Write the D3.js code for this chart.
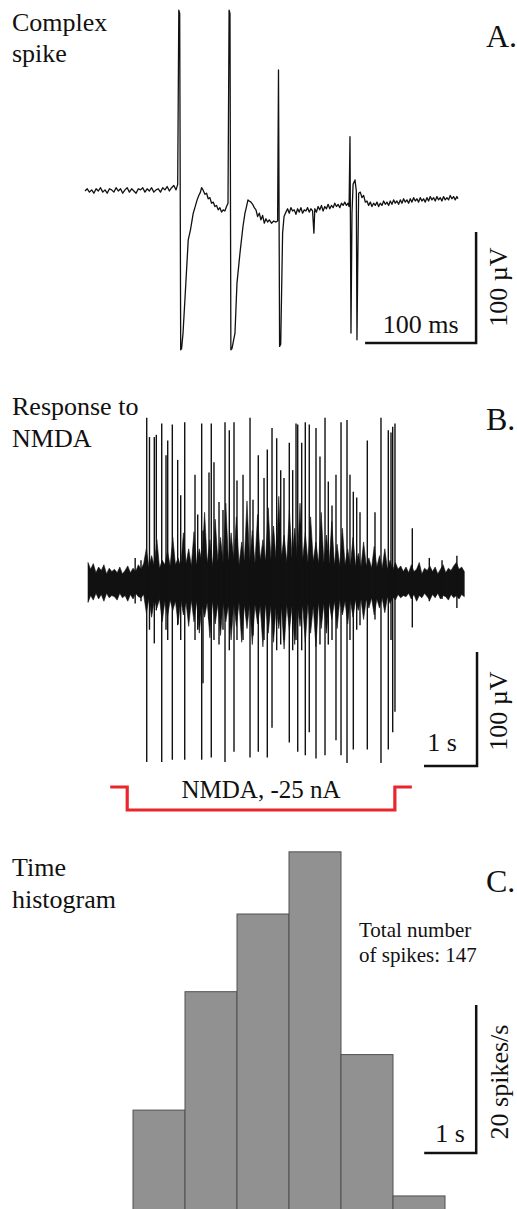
<!DOCTYPE html>
<html>
<head>
<meta charset="utf-8">
<title>Complex spike / NMDA response / time histogram</title>
<script src="https://cdn.jsdelivr.net/npm/d3@7"></script>
<style>
html,body{margin:0;padding:0;background:#fff;}
</style>
</head>
<body>
<script>
// ---------- A. complex spike trace: [time ms, potential µV] ----------
var traceA=[
[0,0],[2,2],[4,-1],[6,1],[8,-2],[10,2],[12,0],[14,3],[16,-1],[18,1],[20,-2],[22,2],[24,1],[26,-1],[28,3],[30,0],[32,2],[34,-2],[36,1],[38,3],[40,-1],[42,2],[44,0],[46,-2],[48,2],[50,1],[52,3],[54,-1],[56,2],[58,0],[60,3],[62,-1],[64,1],[66,2],[68,-1],[70,3],[72,1],[74,4],[76,0],[78,3],[80,5],[82,1],[83.5,6],
[84.5,163],[85.3,160],[86.2,-143],[87,-142],[88.3,-128],[90,-98],[93,-44],[95,-35],[97.5,-20],[99,-15],[101,-8],[102.5,-4],[104,-1],[105,3],[106.3,1],[108,-3],[109.5,-2],[111,-7],[112.5,-6],[114,-11],[115.5,-10],[117,-14],[118.5,-13],[120,-17],[121.5,-15],[123,-19],[124.5,-17],[126,-18],[127.5,-14],[128.8,-11],
[129.8,163],[130.6,160],[131.4,-143],[132.4,-142],[135.1,-128],[136.9,-83],[139.6,-56],[142.3,-32],[144.1,-20],[145.5,-14],[146.8,-8],[148,-9],[149.5,-10],[151,-12],[152.5,-15],[154,-17],[155.5,-23],[157,-20],[158.5,-26],[160,-22],[161.5,-29],[163,-25],[164.5,-28],[166,-26],[168,-29],[170,-27],[172,-28],[173.5,-27],
[174.3,109],[175.3,-140],[176.3,-138],[178,-38],[179.3,-23],[181,-19],[182.5,-16],[184,-20],[185.5,-15],[187,-18],[188.5,-17],[190,-21],[191.5,-16],[193,-19],[194.5,-15],[196,-20],[197.5,-17],[199,-18],[200.5,-15],[202,-19],[203.5,-16],[205,-18],[206.2,-38],[207,-16],[208.5,-19],[210,-14],[211.5,-17],[213,-13],[214.5,-18],[216,-14],[217.5,-16],[219,-12],[220.5,-16],[222,-13],[223.5,-15],[225,-11],[226.5,-14],[228,-12],[229.5,-15],[231,-11],[232.5,-13],[234,-10],[235.5,-13],[237,-11],[237.9,-14],
[238.7,49],[239.6,-128],[240.5,-20],[241.5,6],[243.2,10],[244.4,0],[245,-134],[245.6,-74],[246.5,-2],[248,-1],[249.5,-6],[251,-4],[252.5,-10],[254,-9],
[255.5,-13],[257,-10],[258.5,-14],[260,-11],[261.5,-13],[263,-10],[264.5,-14],[266,-11],[267.5,-13],[269,-9],[270.5,-12],[272,-10],[273.5,-13],[275,-9],[276.5,-12],[278,-8],[279.5,-11],[281,-9],[282.5,-12],[284,-8],[285.5,-11],[287,-7],[288.5,-10],[290,-8],[291.5,-11],[293,-7],[294.5,-10],[296,-6],[297.5,-9],[299,-7],[300.5,-10],[302,-6],[303.5,-9],[305,-7],[306.5,-10],[308,-6],[309.5,-9],[311,-5],[312.5,-8],[314,-6],[315.5,-9],[317,-5],[318.5,-8],[320,-6],[321.5,-9],[323,-5],[324.5,-8],[326,-6],[327.5,-8],[329,-4],[330.5,-7],[332,-5],[333.5,-8],[335,-5],[336,-7]
];

// ---------- B. response to NMDA ----------
// spikes: [time s, peak µV, trough µV]
var spikesB=[
[1.108,145,-157],[1.160,128,-41],[1.251,128,-53],[1.289,130,-24],[1.391,140,-157],[1.472,112,-41],[1.504,125,-50],[1.591,139,-155],[1.692,108,-37],[1.749,77,-50],
[1.825,141,-155],[2.019,95,-50],[2.070,60,-41],[2.145,140,-155],[2.170,46,-88],[2.283,97,-32],[2.326,140,-153],[2.377,106,-50],[2.472,71,-54],[2.547,64,-41],
[2.585,141,-157],[2.666,134,-59],[2.755,141,-148],[2.811,90,-50],[2.925,95,-50],[3.057,145,-153],[3.113,73,-46],[3.213,112,-148],[3.321,92,-50],[3.383,117,-153],
[3.472,136,-127],[3.560,127,-59],[3.636,99,-54],[3.698,92,-50],[3.798,123,-140],[3.862,99,-59],[3.925,140,-50],[3.957,139,-148],[4.032,123,-59],[4.100,141,-151],
[4.175,139,-131],[4.302,136,-154],[4.377,111,-54],[4.472,145,-151],[4.534,89,-54],[4.604,68,-50],[4.679,95,-138],[4.774,141,-151],[4.887,143,-158],[4.943,95,-50],
[5.006,80,-146],[5.070,75,-41],[5.132,62,-37],[5.270,125,-146],[5.415,62,-32],[5.528,145,-158],[5.666,134,-146],[5.717,132,-50],[5.749,137,-131],[5.792,140,-113],
[6.119,48,-39]
];
var minorSpikesB=[[0.89,22,-18],[1.0,20,-16],[6.44,22,-16],[6.68,20,-14],[6.96,24,-22]];
// background band, one max/min pair every bandStepB seconds (µV)
var bandStepB=0.05;
var bandUpperB=[
18,12,17,9,14,11,16,8,13,10, 12,9,14,8,11,15,9,13,10,16,
12,17,30,14,24,15,38,13,20,16, 28,15,40,16,22,14,44,17,30,15,
45,16,30,18,62,17,38,15,56,19, 40,17,70,18,44,20,58,16,36,19,
72,18,46,17,60,20,38,19,66,21, 50,20,76,22,42,18,64,21,48,19,
70,20,44,18,58,19,36,17,62,18, 42,17,54,16,34,15,48,16,30,15,
40,15,26,14,36,15,22,13,32,14, 24,13,30,12,20,11,18,12,15,10,
14,9,16,10,12,18,8,13,11,15, 10,14,8,12,16,9,13,11,15,18,
12,14,10
];
var bandLowerB=[
-17,-11,-15,-9,-14,-10,-16,-9,-13,-11, -12,-15,-9,-13,-11,-16,-10,-14,-9,-12,
-13,-10,-26,-14,-30,-15,-22,-14,-34,-16, -30,-15,-24,-16,-36,-14,-28,-17,-38,-15,
-34,-16,-44,-18,-30,-17,-48,-16,-36,-18, -46,-17,-34,-19,-50,-18,-38,-17,-52,-19,
-40,-18,-54,-19,-36,-20,-56,-18,-44,-20, -52,-20,-40,-21,-58,-19,-42,-20,-54,-19,
-38,-19,-52,-18,-44,-20,-56,-17,-40,-18, -44,-17,-32,-16,-40,-15,-28,-16,-36,-15,
-30,-15,-24,-14,-32,-14,-22,-13,-28,-14, -22,-13,-26,-12,-18,-12,-15,-10,-13,-11,
-12,-9,-14,-10,-16,-11,-13,-9,-12,-15, -10,-13,-9,-14,-11,-12,-15,-10,-13,-11,
-14,-10,-12
];
var nmdaOnOff=[0.74,5.79];

// ---------- C. time histogram (1 s bins, spikes/s) ----------
var binStarts=[0,1,2,3,4,5];
var binRates=[13.5,29.5,40.0,48.4,21.0,1.9];
var totalSpikes=147;

var W=517,H=1209;
var FONT="'Liberation Serif','Times New Roman',Times,serif";
var svg=d3.select("body").append("svg")
	.attr("width",W)
	.attr("height",H)
	.attr("font-family",FONT)
	.style("display","block");

function label(x,y,lines,size,gap,anchor){
	var t=svg.append("text")
	.attr("x",x)
	.attr("y",y)
	.attr("font-family",FONT)
	.attr("font-size",size)
	.attr("fill","#111")
	.attr("text-anchor",anchor||"start");
	lines.forEach(function(s,i){
		t.append("tspan").attr("x",x).attr("dy",i?gap:0).text(s);
	});
	return t;
}
function vlabel(x,y,s){
	svg.append("text")
	.attr("transform","translate("+x+","+y+") rotate(-90)")
	.attr("text-anchor","middle")
	.attr("font-family",FONT)
	.attr("font-size",26)
	.attr("fill","#111")
	.text(s);
}
function scaleBar(x0,x1,y0,y1){
	// horizontal then vertical, corner at (x1,y0)
	svg.append("path")
	.attr("d","M"+x0+","+y0+"H"+x1+"V"+y1)
	.attr("fill","none")
	.attr("stroke","#111")
	.attr("stroke-width",2.5);
}

// ===== A =====
var xA=d3.scaleLinear().domain([0,336]).range([85,458]);
var yA=d3.scaleLinear().domain([0,100]).range([191,80]);
svg.append("path")
	.datum(traceA)
	.attr("d",d3.line().x(function(d){return xA(d[0]);}).y(function(d){return yA(d[1]);}))
	.attr("fill","none")
	.attr("stroke","#111")
	.attr("stroke-width",1.3)
	.attr("stroke-linejoin","round");
scaleBar(xA(252.3),xA(352.3),yA(-137),yA(-37));
label((xA(252.3)+xA(352.3))/2,333,["100 ms"],26,0,"middle");
vlabel(507,287,"100 µV");
label(12,31,["Complex","spike"],26,31);
label(486,47,["A."],32,0);

// ===== B =====
var xB=d3.scaleLinear().domain([0,1]).range([88,141]);
var yB=d3.scaleLinear().domain([0,100]).range([583,469]);
svg.append("path")
	.datum(bandUpperB.map(function(u,i){return [i*bandStepB,u,bandLowerB[i]];}))
	.attr("d",d3.area()
		.x(function(d){return xB(d[0]);})
		.y0(function(d){return yB(d[2]);})
		.y1(function(d){return yB(d[1]);}))
	.attr("fill","#111")
	.attr("stroke","#111")
	.attr("stroke-width",0.6);
svg.selectAll(".spikeB")
	.data(spikesB.concat(minorSpikesB))
	.enter()
	.append("line")
	.attr("class","spikeB")
	.attr("x1",function(d){return xB(d[0]);})
	.attr("x2",function(d){return xB(d[0]);})
	.attr("y1",function(d){return yB(d[1]);})
	.attr("y2",function(d){return yB(d[2]);})
	.attr("stroke","#111")
	.attr("stroke-width",1.4);
scaleBar(xB(6.34),xB(7.34),yB(-160.5),yB(-60.5));
label(442,751,["1 s"],26,0,"middle");
vlabel(507,711,"100 µV");
label(12,415,["Response to","NMDA"],26,32);
label(486,430,["B."],32,0);

// stimulus bracket
var sOn=xB(nmdaOnOff[0]),sOff=xB(nmdaOnOff[1]);
svg.append("path")
	.attr("d","M"+(sOn-17)+",787H"+sOn+"V810H"+sOff+"V787H"+(sOff+17))
	.attr("fill","none")
	.attr("stroke","#e8262b")
	.attr("stroke-width",3.2);
label((sOn+sOff)/2,798,["NMDA, -25 nA"],25,0,"middle");

// ===== C =====
var xC=d3.scaleLinear().domain([0,1]).range([133,185]);
var yC=d3.scaleLinear().domain([0,20]).range([1210,1062]);
svg.selectAll(".bar")
	.data(binStarts)
	.enter()
	.append("rect")
	.attr("class","bar")
	.attr("x",function(d){return xC(d);})
	.attr("width",function(d){return xC(d+1)-xC(d);})
	.attr("y",function(d,i){return yC(binRates[i]);})
	.attr("height",function(d,i){return yC(0)-yC(binRates[i]);})
	.attr("fill","#919191")
	.attr("stroke","#505050")
	.attr("stroke-width",1);
scaleBar(xC(5.6),xC(6.6),yC(7.7),yC(27.7));
label(450,1142,["1 s"],26,0,"middle");
vlabel(508,1082,"20 spikes/s");
label(359,937,["Total number","of spikes: "+totalSpikes],21,25);
label(12,876,["Time","histogram"],26,32);
label(486,892,["C."],32,0);
</script>
</body>
</html>
